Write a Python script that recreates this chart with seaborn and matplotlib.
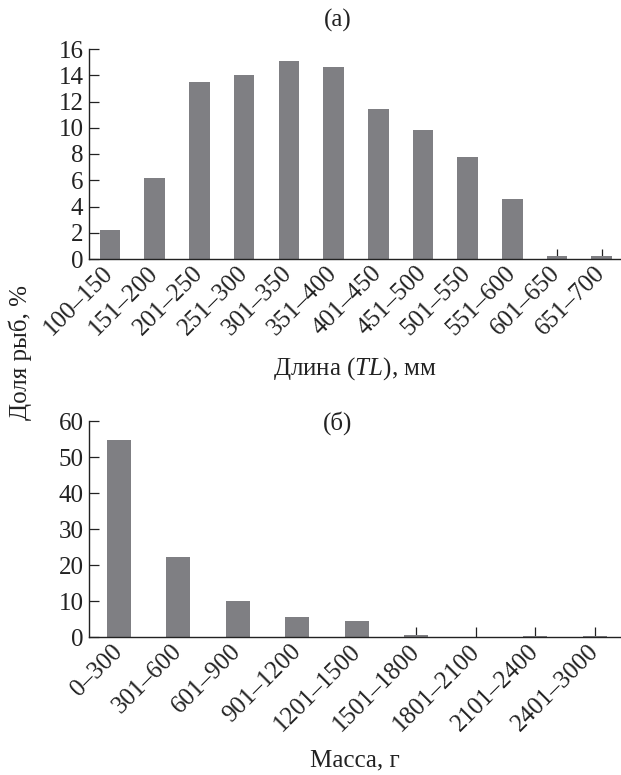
import matplotlib
matplotlib.use("Agg")
import matplotlib.pyplot as plt
import seaborn as sns
import pandas as pd

len_bins = ["100–150", "151–200", "201–250", "251–300", "301–350", "351–400",
            "401–450", "451–500", "501–550", "551–600", "601–650", "651–700"]
len_share = [2.2, 6.2, 13.5, 14.0, 15.1, 14.6, 11.4, 9.8, 7.8, 4.6, 0.2, 0.2]

mass_bins = ["0–300", "301–600", "601–900", "901–1200", "1201–1500",
             "1501–1800", "1801–2100", "2101–2400", "2401–3000"]
mass_share = [54.8, 22.3, 9.9, 5.6, 4.5, 0.5, 0.1, 0.15, 0.15]

sns.set_style("ticks")
plt.rcParams["font.family"] = ["Liberation Serif", "DejaVu Serif"]
plt.rcParams["mathtext.fontset"] = "custom"
plt.rcParams["mathtext.it"] = "Liberation Serif:italic"
plt.rcParams["mathtext.rm"] = "Liberation Serif"

FS = 18
bar_color = "#7f7f83"

fig = plt.figure(figsize=(6.21, 7.75), dpi=100)
ax1 = fig.add_axes([89/621, 1-259/775, 1-89/621, (259-49)/775])
ax2 = fig.add_axes([89/621, 1-637/775, 1-89/621, (637-421)/775])

df1 = pd.DataFrame({"bin": len_bins, "share": len_share})
df2 = pd.DataFrame({"bin": mass_bins, "share": mass_share})

sns.barplot(data=df1, x="bin", y="share", ax=ax1, color=bar_color,
            width=0.46, saturation=1, edgecolor="none")
sns.barplot(data=df2, x="bin", y="share", ax=ax2, color=bar_color,
            width=0.40, saturation=1, edgecolor="none")

ax1.set_xlim(-0.47, 11.43)
ax1.set_ylim(0, 16)
ax1.set_yticks(range(0, 17, 2))
ax2.set_xlim(-0.5, 8.44)
ax2.set_ylim(0, 60)
ax2.set_yticks(range(0, 61, 10))

for ax in (ax1, ax2):
    for s in ("top", "right"):
        ax.spines[s].set_visible(False)
    for s in ("left", "bottom"):
        ax.spines[s].set_linewidth(1.0)
        ax.spines[s].set_color("#222222")
    ax.tick_params(axis="both", direction="in", length=7, width=0.9,
                   colors="#222222", labelsize=FS, labelcolor="#222222")
    ax.tick_params(axis="y", pad=4)
    ax.tick_params(axis="x", pad=8)
    for lbl in ax.get_xticklabels():
        lbl.set_rotation(45)
        lbl.set_ha("right")
        lbl.set_va("center")
        lbl.set_rotation_mode("anchor")
    ax.set_ylabel("")

ax1.set_xlabel("Длина ($\\mathit{TL}$), мм", fontsize=FS, color="#222222", labelpad=11)
ax2.set_xlabel("Масса, г", fontsize=FS, color="#222222", labelpad=10)

fig.text(338/621, 1-20/775, "(a)", ha="center", va="center", fontsize=FS, color="#222222")
fig.text(338/621, 1-423/775, "(б)", ha="center", va="center", fontsize=FS, color="#222222")
fig.text(20/621, 1-352/775, "Доля рыб, %", rotation=90, ha="center", va="center",
         fontsize=FS, color="#222222")

fig.savefig("out.png", dpi=100)
